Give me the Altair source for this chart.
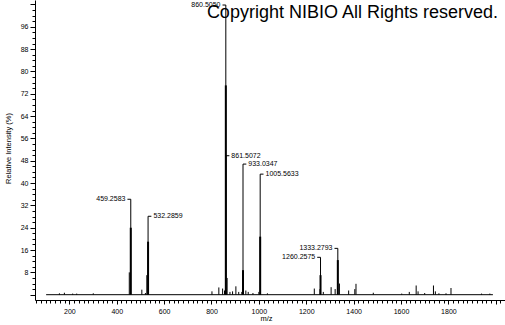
import altair as alt
import pandas as pd

# ---- data ----
baseline_range = [102, 1988]

label_mz = [459.2583, 532.2859, 860.5050, 861.5072, 933.0347, 1005.5633, 1260.2575, 1333.2793]
label_apex = [34.2, 28.1, 103.8, 49.8, 46.8, 43.2, 13.4, 16.6]
label_body = [24.0, 19.0, 75.0, 0.0, 8.8, 20.8, 7.0, 12.4]
label_side = ["left", "right", "left", "right", "right", "right", "left", "left"]
label_text = ["459.2583", "532.2859", "860.5050", "861.5072", "933.0347", "1005.5633", "1260.2575", "1333.2793"]

small_mz = [158, 179, 214, 231, 301, 453, 506, 521, 527, 802, 831, 847, 855, 866, 878, 889, 903, 915,
            928, 945, 955, 975, 1000, 1036, 1234, 1258, 1272, 1305, 1322, 1340, 1379, 1405, 1410,
            1483, 1603, 1635, 1664, 1672, 1700, 1737, 1745, 1760, 1790, 1811, 1940, 1975]
small_h = [0.5, 0.7, 0.4, 0.4, 0.5, 8.0, 1.8, 0.6, 7.0, 1.2, 2.6, 2.2, 1.5, 6.0, 1.0, 1.2, 3.0, 1.0,
           1.0, 1.5, 1.0, 0.6, 1.0, 0.5, 2.2, 2.0, 1.0, 2.7, 2.0, 4.0, 1.5, 2.0, 3.9,
           0.7, 0.4, 1.0, 3.3, 1.2, 0.6, 3.3, 1.2, 0.5, 0.5, 2.4, 0.4, 0.4]

x_ticks = list(range(60, 2040, 20))
y_ticks = list(range(0, 106, 2))

copyright_text = "Copyright NIBIO All Rights reserved."

# ---- tables ----
labels_df = pd.DataFrame({"mz": label_mz, "apex": label_apex, "body": label_body,
                          "side": label_side, "text": label_text})
small_df = pd.DataFrame({"mz": small_mz, "h": small_h})
base_df = pd.DataFrame({"x1": [baseline_range[0]], "x2": [baseline_range[1]], "y": [0]})
cr_df = pd.DataFrame({"t": [copyright_text]})

xscale = alt.Scale(domain=[55, 2039], nice=False, zero=False)
yscale = alt.Scale(domain=[-1.9, 105.6], nice=False, zero=False)

font = "Liberation Sans"

xaxis = alt.Axis(
    title="m/z", values=x_ticks, grid=False, domainColor="black", tickColor="black",
    labelExpr="(datum.value % 200 === 0 && datum.value >= 200 && datum.value <= 1800) ? datum.label : ''",
    tickSize={"condition": {"test": "datum.value % 200 === 0", "value": 4}, "value": 3},
    labelFont=font, labelFontSize=7, labelColor="black", labelPadding=3, labelFlush=False,
    labelOverlap=False, labelBound=False,
    titleFont=font, titleFontSize=7.5, titleFontWeight="normal", titleColor="black",
    titleX=231, titleY=18, titleBaseline="middle", titleAlign="center", format="d",
)
yaxis = alt.Axis(
    title="Relative Intensity (%)", values=y_ticks, grid=False, domainColor="black", tickColor="black",
    labelExpr="(datum.value % 8 === 0 && datum.value > 0 && datum.value <= 96) ? datum.label : ''",
    tickSize={"condition": {"test": "datum.value % 8 === 0", "value": 5}, "value": 3},
    labelFont=font, labelFontSize=7, labelColor="black", labelPadding=2,
    labelOverlap=False, labelBound=False, labelFlush=False,
    titleFont=font, titleFontSize=7.5, titleFontWeight="normal", titleColor="black",
    titleX=-27, titleY=148, titleAngle=270, titleAlign="center", titleBaseline="middle",
)


def X(field):
    return alt.X(field, type="quantitative", scale=xscale, axis=xaxis)


def Y(field):
    return alt.Y(field, type="quantitative", scale=yscale, axis=yaxis)


baseline = alt.Chart(base_df).mark_rule(color="black", strokeWidth=1).encode(
    x=X("x1"), x2="x2:Q", y=Y("y"),
)

small = alt.Chart(small_df).mark_rule(color="black", strokeWidth=1).encode(
    x=X("mz"), y=Y("h"), y2=alt.datum(0)
)

apex = alt.Chart(labels_df).mark_rule(color="black", strokeWidth=1).encode(
    x=X("mz"), y=Y("apex"), y2=alt.datum(0)
)

body = alt.Chart(labels_df).transform_filter("datum.body > 0").mark_rule(
    color="black", strokeWidth=2).encode(
    x=X("mz"), y=Y("body"), y2=alt.datum(0)
)

bracket = alt.Chart(labels_df).transform_calculate(
    bx="datum.side === 'left' ? datum.mz - 14 : datum.mz + 14"
).mark_rule(color="black", strokeWidth=1).encode(
    x=X("mz"), x2="bx:Q", y=Y("apex")
)

lab_left = alt.Chart(labels_df).transform_filter("datum.side === 'left'").transform_calculate(
    bx="datum.mz - 14"
).mark_text(font=font, fontSize=7, align="right", baseline="middle", dx=-2, color="black").encode(
    x=X("bx"), y=Y("apex"), text="text:N"
)
lab_right = alt.Chart(labels_df).transform_filter("datum.side === 'right'").transform_calculate(
    bx="datum.mz + 14"
).mark_text(font=font, fontSize=7, align="left", baseline="middle", dx=2, color="black").encode(
    x=X("bx"), y=Y("apex"), text="text:N"
)

copyright = alt.Chart(cr_df).mark_text(
    font=font, fontSize=18, align="right", baseline="alphabetic", color="black"
).encode(x=alt.value(463), y=alt.value(18), text="t:N")

chart = alt.layer(baseline, small, apex, body, bracket, lab_left, lab_right, copyright).properties(
    width=470, height=300,
    padding={"left": 35, "top": 0, "right": 0, "bottom": 25},
    autosize=alt.AutoSizeParams(type="none"),
    background="white",
).configure_view(stroke=None).configure_axis(labelOverlap=False)

chart.save("out.html", embed_options={"renderer": "svg", "actions": False})
